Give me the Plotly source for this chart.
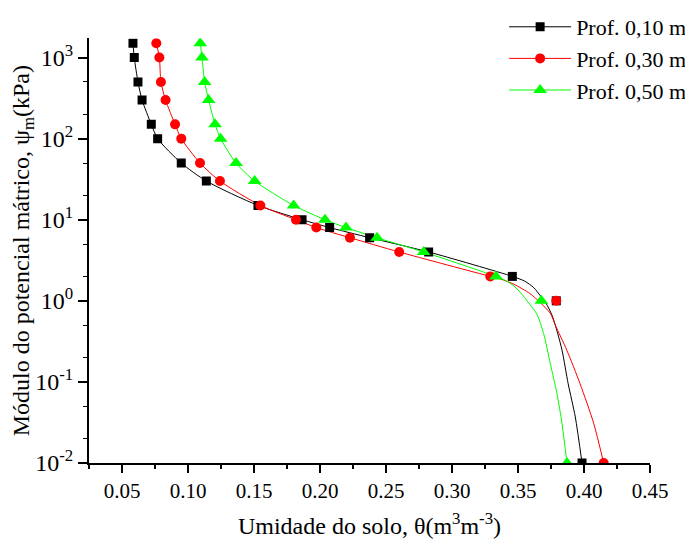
import plotly.graph_objects as go

# Matric potential levels (kPa)
psi = [1500, 1000, 500, 300, 150, 100, 50, 30, 15, 10, 8, 6, 4, 2, 1, 0.01]

# Soil moisture (m3 m-3) at each depth
theta_10 = [0.0583, 0.0593, 0.0621, 0.0652, 0.0722, 0.0770, 0.0949, 0.1139,
            0.1530, 0.1864, 0.2073, 0.2376, 0.2823, 0.3457, 0.3790, 0.3985]
theta_30 = [0.0760, 0.0783, 0.0795, 0.0830, 0.0902, 0.0949, 0.1091, 0.1242,
            0.1548, 0.1818, 0.1972, 0.2227, 0.2600, 0.3290, 0.3790, 0.4149]
theta_50 = [0.1093, 0.1106, 0.1126, 0.1156, 0.1205, 0.1247, 0.1364, 0.1505,
            0.1800, 0.2038, 0.2197, 0.2432, 0.2785, 0.3333, 0.3677, 0.3871]

# Fitted curves below psi = 2 kPa
fit10_theta = [0.3550, 0.3620, 0.3670, 0.3710, 0.3760, 0.3800, 0.3835, 0.3880, 0.3934, 0.3985]
fit10_psi = [1.75, 1.45, 1.15, 0.95, 0.65, 0.40, 0.24, 0.095, 0.037, 0.01]
fit30_theta = [0.3370, 0.3470, 0.3590, 0.3660, 0.3745, 0.3783, 0.3870, 0.3970, 0.4073, 0.4149]
fit30_psi = [1.85, 1.60, 1.23, 0.98, 0.70, 0.50, 0.246, 0.095, 0.031, 0.01]
fit50_theta = [0.3400, 0.3470, 0.3540, 0.3590, 0.3644, 0.3694, 0.3745, 0.3795, 0.3833, 0.3871]
fit50_psi = [1.80, 1.52, 1.15, 0.90, 0.68, 0.395, 0.168, 0.072, 0.031, 0.01]

names = ["Prof. 0,10 m", "Prof. 0,30 m", "Prof. 0,50 m"]
colors = ["#000000", "#ff0000", "#00ff00"]
symbols = ["square", "circle", "triangle-up"]
sizes = [9, 10, 12]

y_tickvals = [0.01, 0.1, 1, 10, 100, 1000]
y_ticktext = ["10<sup>-2</sup>", "10<sup>-1</sup>", "10<sup>0</sup>",
              "10<sup>1</sup>", "10<sup>2</sup>", "10<sup>3</sup>"]

thetas = [theta_10, theta_30, theta_50]
fits = [(fit10_theta, fit10_psi), (fit30_theta, fit30_psi), (fit50_theta, fit50_psi)]

fig = go.Figure()

# fitted lines
for th, (ft, fp), c in zip(thetas, fits, colors):
    cx = [t for t, p in zip(th, psi) if p >= 2] + ft
    cy = [p for p in psi if p >= 2] + fp
    fig.add_trace(go.Scatter(x=cx, y=cy, mode="lines",
                             line=dict(color=c, width=1, shape="spline", smoothing=0.7),
                             showlegend=False, hoverinfo="skip"))

# markers
for th, c, s, sz in zip(thetas, colors, symbols, sizes):
    fig.add_trace(go.Scatter(x=th, y=psi, mode="markers",
                             marker=dict(color=c, symbol=s, size=sz, line=dict(width=0)),
                             showlegend=False))

# legend entries
for n, c, s, sz in zip(names, colors, symbols, sizes):
    fig.add_trace(go.Scatter(x=[None], y=[None], mode="lines+markers", name=n,
                             line=dict(color=c, width=1),
                             marker=dict(color=c, symbol=s, size=sz, line=dict(width=0))))

font_family = "Liberation Serif, Times New Roman, serif"

# the page body has an 8px margin, so the figure is sized to fit the window
W, H = 685, 533
plot_left, plot_right = 80.5, 642.0
plot_top, plot_bottom = 30.3, 454.7
mt = 5
ml, mr, mb = plot_left, W - plot_right, H - plot_bottom
paper_h = H - mt - mb
paper_w = W - ml - mr
ydom_top = (plot_bottom - plot_top) / paper_h

fig.update_layout(
    width=W, height=H,
    margin=dict(l=ml, r=mr, t=mt, b=mb, autoexpand=False),
    paper_bgcolor="white", plot_bgcolor="white",
    font=dict(family=font_family, color="black", size=21),
    showlegend=True,
    legend=dict(x=(496 - plot_left) / paper_w, y=(plot_bottom + 2) / paper_h,
                xanchor="left", yanchor="top",
                font=dict(size=22, family=font_family),
                bgcolor="rgba(0,0,0,0)", itemwidth=62, tracegroupgap=0),
    xaxis=dict(
        range=[0.025, 0.45], dtick=0.05, tick0=0.05, tickformat=".2f",
        automargin=False,
        showgrid=False, zeroline=False, showline=True, linecolor="black", linewidth=2,
        ticks="outside", ticklen=8, tickwidth=2, tickcolor="black",
        minor=dict(dtick=0.025, tick0=0.025, ticks="outside", ticklen=4, tickwidth=2, tickcolor="black"),
        tickfont=dict(size=21, family=font_family),
        title=dict(text="Umidade do solo, θ(m<sup>3</sup>m<sup>-3</sup>)",
                   font=dict(size=24, family=font_family), standoff=15),
    ),
    yaxis=dict(
        type="log", range=[-2, 3.237], domain=[0, ydom_top],
        tickvals=y_tickvals, ticktext=y_ticktext,
        automargin=False,
        showgrid=False, zeroline=False, showline=True, linecolor="black", linewidth=2,
        ticks="outside", ticklen=9, tickwidth=2, tickcolor="black",
        minor=dict(ticks="outside", ticklen=4, tickwidth=1, tickcolor="black", showgrid=False),
        tickfont=dict(size=24, family=font_family),
        title=dict(text="Módulo do potencial mátrico, ψ<sub>m</sub>(kPa)",
                   font=dict(size=24, family=font_family), standoff=6),
    ),
)

fig.write_html("out.html")
